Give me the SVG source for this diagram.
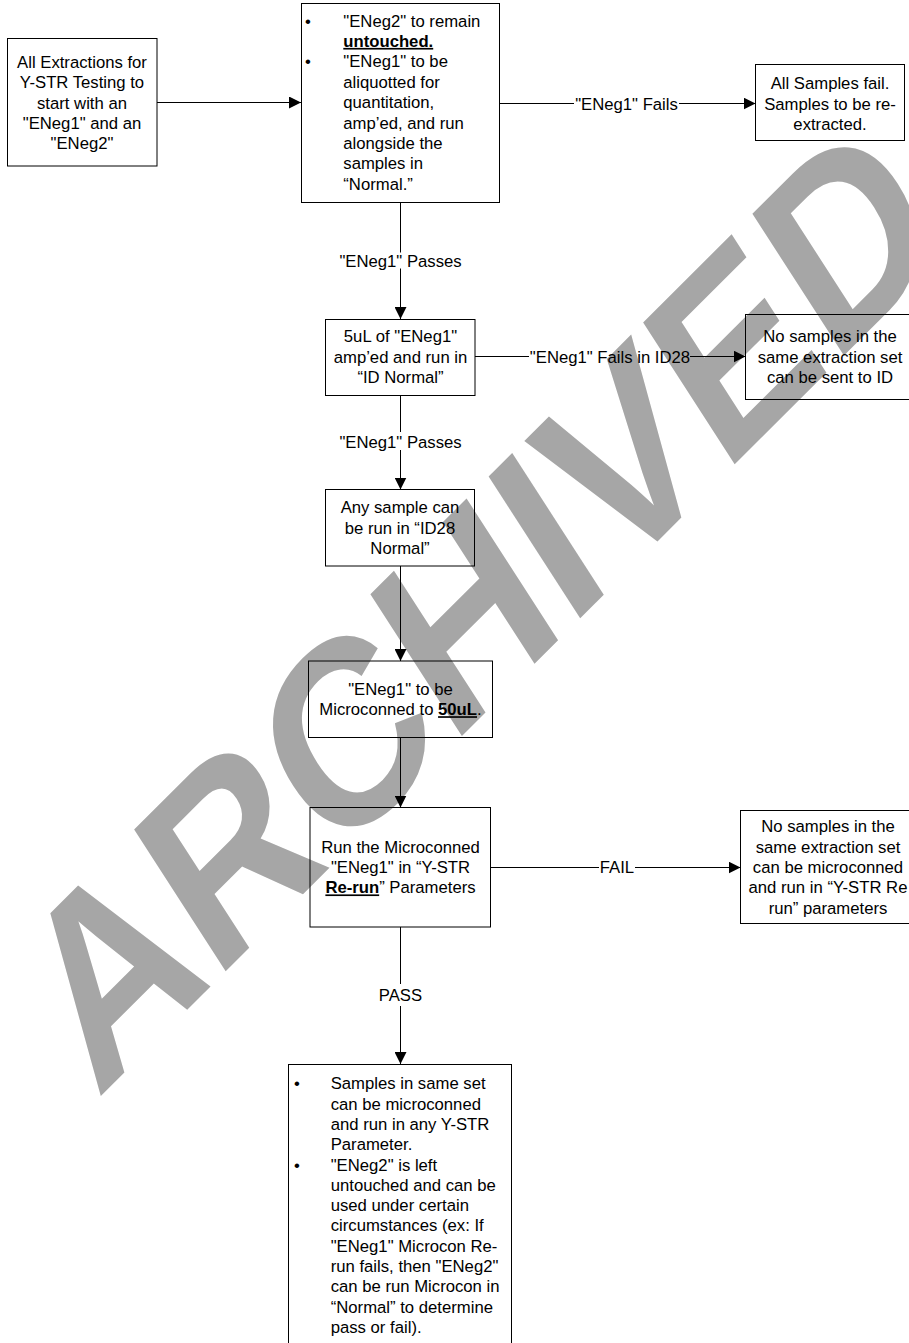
<svg xmlns="http://www.w3.org/2000/svg" width="909" height="1343" viewBox="0 0 909 1343">
<style>
  .bx { fill: none; stroke: #000; stroke-width: 1; }
  .t { font-family: "Liberation Sans", Arial, sans-serif; font-size: 16.7px; fill: #000; }
  .c { text-anchor: middle; }
  .b { font-weight: bold; text-decoration: underline; }
  .ln { fill: none; stroke: #000; stroke-width: 1; }
  .wm { font-family: "Liberation Sans", Arial, sans-serif; font-weight: bold; font-size: 100px; fill: #a6a6a6; }
</style>
<defs>
  <marker id="ah" markerUnits="userSpaceOnUse" markerWidth="12" markerHeight="12" refX="12" refY="6" orient="auto">
    <path d="M0,0 L12,6 L0,12 z" fill="#000"/>
  </marker>
</defs>
<rect x="0" y="0" width="909" height="1343" fill="#fff"/>

<g id="watermark">
  <text class="wm" transform="matrix(1.636 -1.63 1.33 2.06 96.7 1100)" x="0" y="0">ARCHIVED</text>
</g>

<g id="connectors">
  <line class="ln" x1="157" y1="102.5" x2="301" y2="102.5" marker-end="url(#ah)"/>
  <line class="ln" x1="499" y1="103.5" x2="574" y2="103.5"/>
  <line class="ln" x1="679" y1="103.5" x2="755.5" y2="103.5" marker-end="url(#ah)"/>
  <text class="t c" x="626.5" y="109.5">"ENeg1" Fails</text>
  <line class="ln" x1="400.5" y1="202.5" x2="400.5" y2="252.5"/>
  <line class="ln" x1="400.5" y1="268.5" x2="400.5" y2="319" marker-end="url(#ah)"/>
  <text class="t c" x="400.5" y="266.7">"ENeg1" Passes</text>
  <line class="ln" x1="475" y1="356.5" x2="529" y2="356.5"/>
  <line class="ln" x1="690" y1="356.5" x2="745.5" y2="356.5" marker-end="url(#ah)"/>
  <text class="t c" x="610" y="362.7">"ENeg1" Fails in ID28</text>
  <line class="ln" x1="400.5" y1="395.5" x2="400.5" y2="432"/>
  <line class="ln" x1="400.5" y1="450" x2="400.5" y2="489.5" marker-end="url(#ah)"/>
  <text class="t c" x="400.5" y="447.7">"ENeg1" Passes</text>
  <line class="ln" x1="400.5" y1="566" x2="400.5" y2="661" marker-end="url(#ah)"/>
  <line class="ln" x1="400.5" y1="737.5" x2="400.5" y2="807.5" marker-end="url(#ah)"/>
  <line class="ln" x1="490.5" y1="867.5" x2="599" y2="867.5"/>
  <line class="ln" x1="635" y1="867.5" x2="740.5" y2="867.5" marker-end="url(#ah)"/>
  <text class="t c" x="617" y="873">FAIL</text>
  <line class="ln" x1="400.5" y1="927" x2="400.5" y2="984"/>
  <line class="ln" x1="400.5" y1="1006" x2="400.5" y2="1064" marker-end="url(#ah)"/>
  <text class="t c" x="400.5" y="1001">PASS</text>
</g>

<g id="n-start">
  <rect class="bx" x="7.5" y="38.5" width="149.5" height="127.5"/>
  <text class="t c" x="82" y="67.7">All Extractions for</text>
  <text class="t c" x="82" y="88.1">Y-STR Testing to</text>
  <text class="t c" x="82" y="108.5">start with an</text>
  <text class="t c" x="82" y="128.9">"ENeg1" and an</text>
  <text class="t c" x="82" y="149.3">"ENeg2"</text>
</g>

<g id="n-controls">
  <rect class="bx" x="301.5" y="3.5" width="198" height="199"/>
  <text class="t" x="305" y="26.5">•</text>
  <text class="t" x="305" y="67.3">•</text>
  <text class="t" x="343.3" y="26.5">"ENeg2" to remain</text>
  <text class="t b" x="343.3" y="46.9">untouched.</text>
  <text class="t" x="343.3" y="67.3">"ENeg1" to be</text>
  <text class="t" x="343.3" y="87.7">aliquotted for</text>
  <text class="t" x="343.3" y="108.1">quantitation,</text>
  <text class="t" x="343.3" y="128.5">amp’ed, and run</text>
  <text class="t" x="343.3" y="148.9">alongside the</text>
  <text class="t" x="343.3" y="169.3">samples in</text>
  <text class="t" x="343.3" y="189.7">“Normal.”</text>
</g>

<g id="n-allfail">
  <rect class="bx" x="755.5" y="64.5" width="149" height="76"/>
  <text class="t c" x="830" y="89.3">All Samples fail.</text>
  <text class="t c" x="830" y="109.7">Samples to be re-</text>
  <text class="t c" x="830" y="130.1">extracted.</text>
</g>

<g id="n-5ul">
  <rect class="bx" x="325.5" y="319.5" width="149.5" height="76"/>
  <text class="t c" x="400.5" y="342.3">5uL of "ENeg1"</text>
  <text class="t c" x="400.5" y="362.7">amp’ed and run in</text>
  <text class="t c" x="400.5" y="383.1">“ID Normal”</text>
</g>

<g id="n-noid">
  <rect class="bx" x="745.5" y="314.5" width="170" height="85"/>
  <text class="t c" x="830" y="342.3">No samples in the</text>
  <text class="t c" x="830" y="362.7">same extraction set</text>
  <text class="t c" x="830" y="383.1">can be sent to ID</text>
</g>

<g id="n-anysample">
  <rect class="bx" x="325.5" y="489.5" width="149" height="76.5"/>
  <text class="t c" x="400" y="513.3">Any sample can</text>
  <text class="t c" x="400" y="533.7">be run in “ID28</text>
  <text class="t c" x="400" y="554.1">Normal”</text>
</g>

<g id="n-microcon">
  <rect class="bx" x="308.5" y="661" width="184" height="76.5"/>
  <text class="t c" x="400.5" y="694.8">"ENeg1" to be</text>
  <text class="t c" x="400.5" y="715.2">Microconned to <tspan class="b">50uL</tspan>.</text>
</g>

<g id="n-rerun">
  <rect class="bx" x="310" y="807.5" width="180.5" height="119.5"/>
  <text class="t c" x="400.5" y="852.6">Run the Microconned</text>
  <text class="t c" x="400.5" y="873">"ENeg1" in “Y-STR</text>
  <text class="t c" x="400.5" y="893.4"><tspan class="b">Re-run</tspan>” Parameters</text>
</g>

<g id="n-nomicrocon">
  <rect class="bx" x="740.5" y="810.5" width="176" height="113"/>
  <text class="t c" x="828" y="832.2">No samples in the</text>
  <text class="t c" x="828" y="852.6">same extraction set</text>
  <text class="t c" x="828" y="873">can be microconned</text>
  <text class="t c" x="828" y="893.4">and run in “Y-STR Re</text>
  <text class="t c" x="828" y="913.8">run” parameters</text>
</g>

<g id="n-pass">
  <rect class="bx" x="288.5" y="1064.5" width="223" height="290"/>
  <text class="t" x="294" y="1089.3">•</text>
  <text class="t" x="294" y="1170.5">•</text>
  <text class="t" x="330.7" y="1089.3">Samples in same set</text>
  <text class="t" x="330.7" y="1109.6">can be microconned</text>
  <text class="t" x="330.7" y="1129.9">and run in any Y-STR</text>
  <text class="t" x="330.7" y="1150.2">Parameter.</text>
  <text class="t" x="330.7" y="1170.5">"ENeg2" is left</text>
  <text class="t" x="330.7" y="1190.8">untouched and can be</text>
  <text class="t" x="330.7" y="1211.1">used under certain</text>
  <text class="t" x="330.7" y="1231.4">circumstances (ex: If</text>
  <text class="t" x="330.7" y="1251.7">"ENeg1" Microcon Re-</text>
  <text class="t" x="330.7" y="1272">run fails, then "ENeg2"</text>
  <text class="t" x="330.7" y="1292.3">can be run Microcon in</text>
  <text class="t" x="330.7" y="1312.6">“Normal” to determine</text>
  <text class="t" x="330.7" y="1332.9">pass or fail).</text>
</g>
</svg>
